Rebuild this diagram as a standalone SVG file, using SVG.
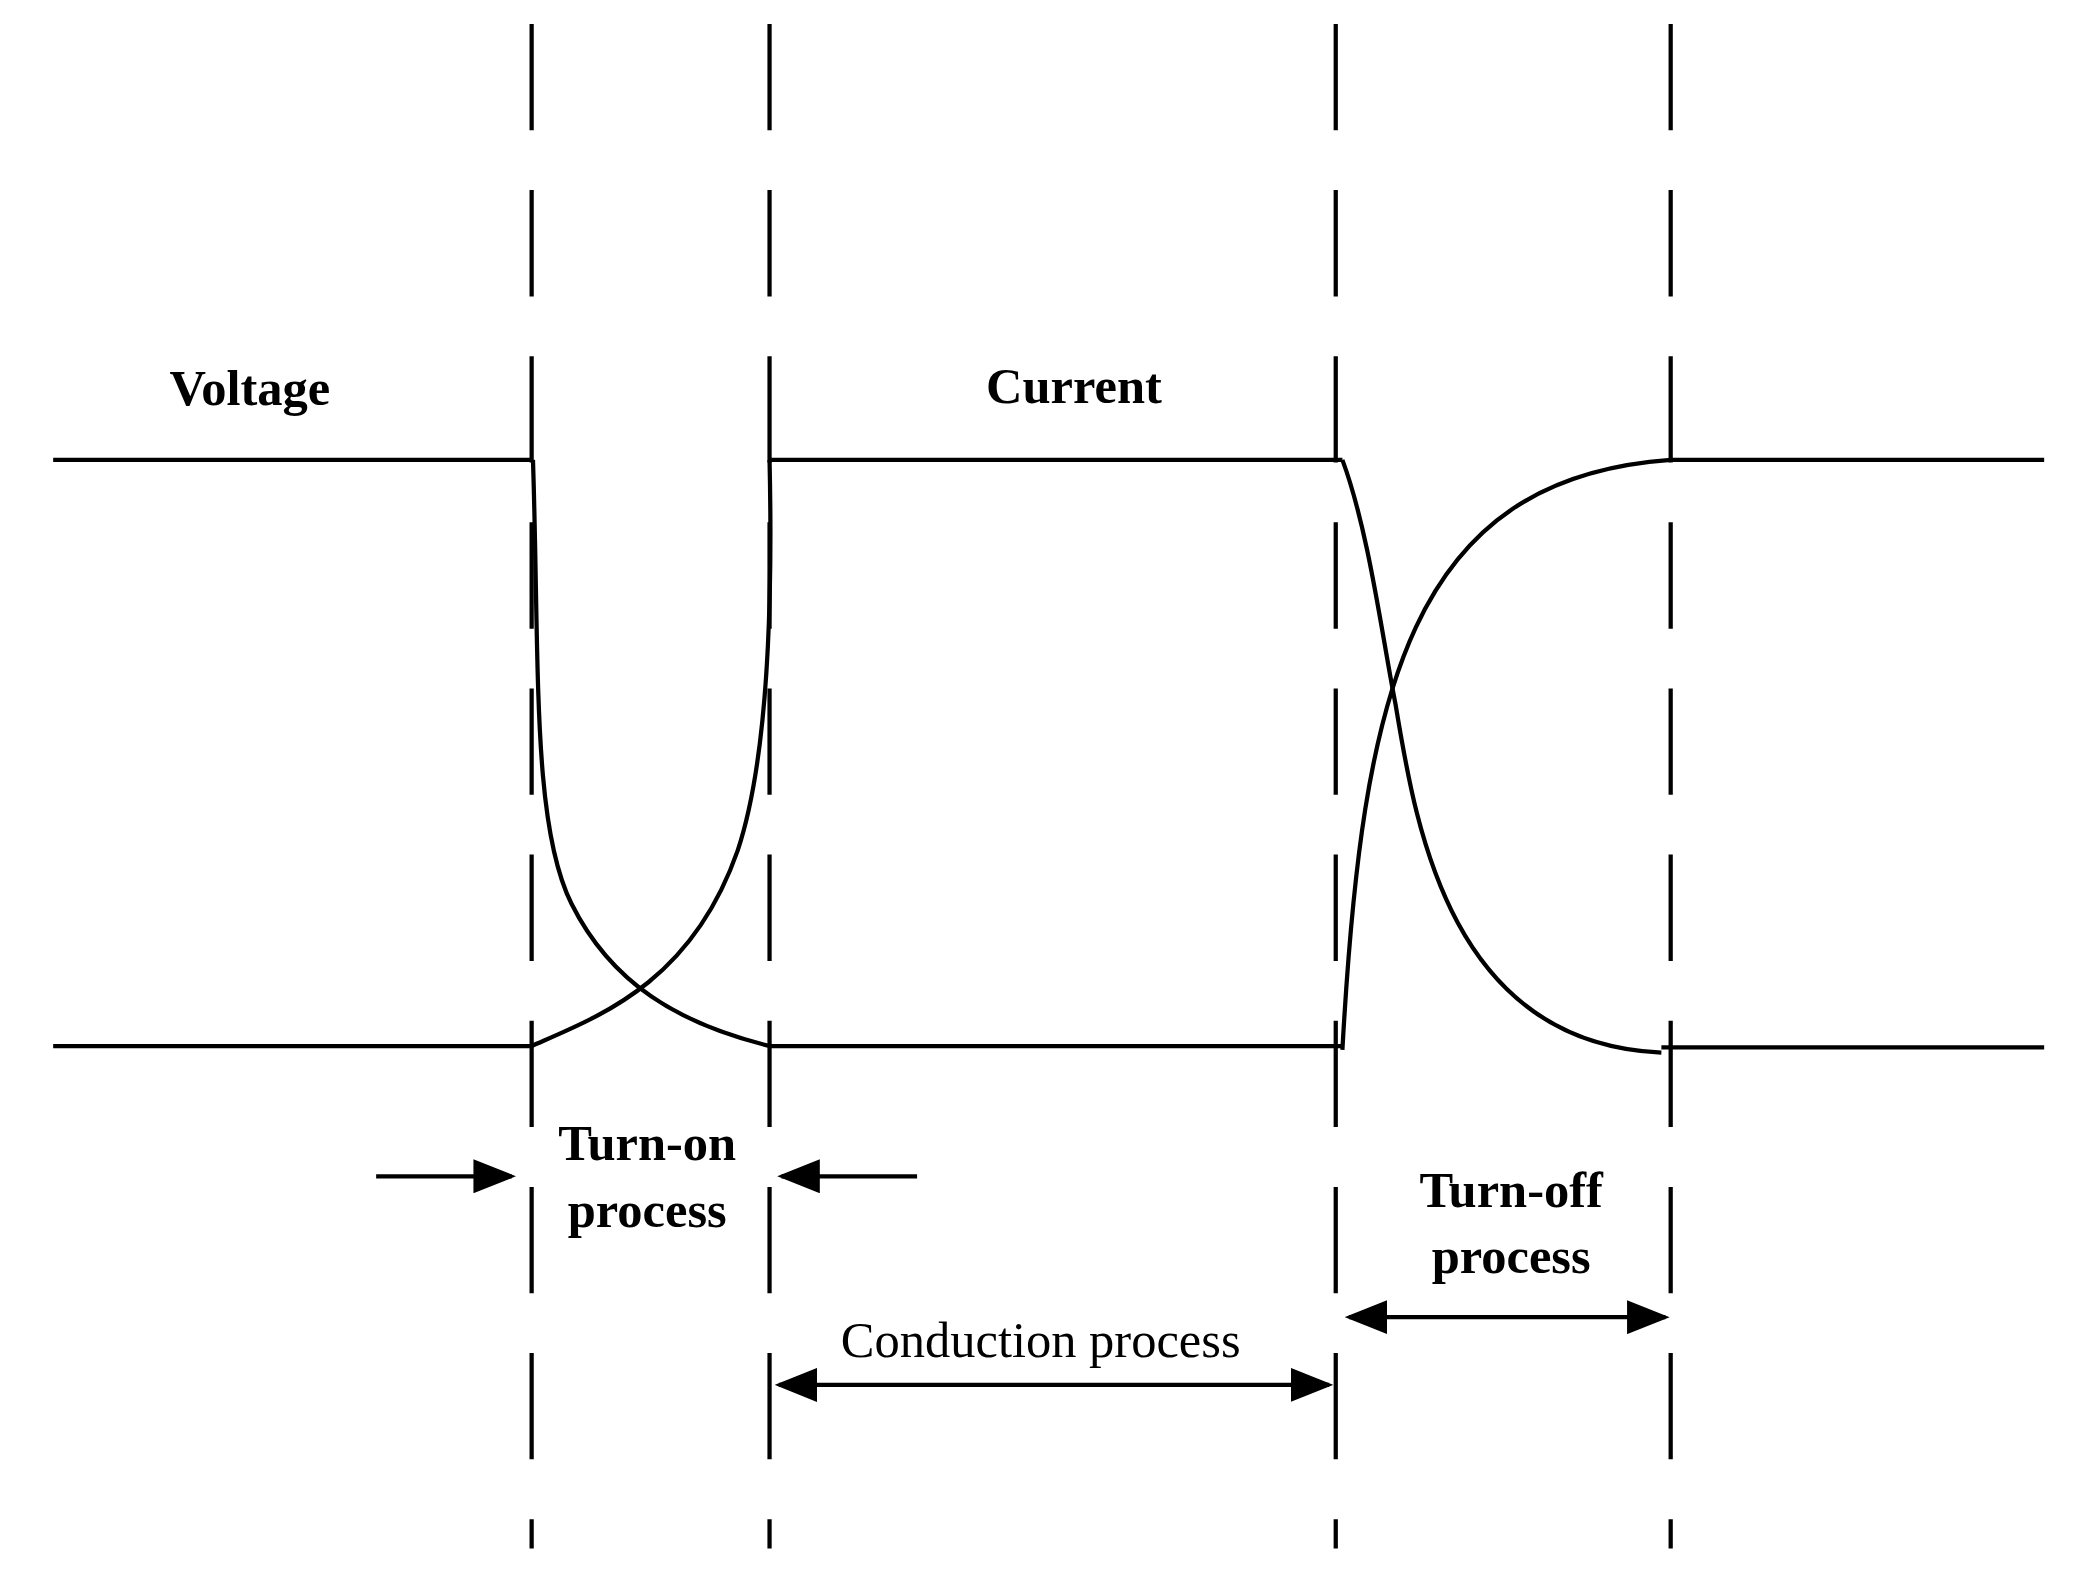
<svg xmlns="http://www.w3.org/2000/svg" width="2084" height="1577" viewBox="0 0 2084 1577">
<defs>
<style>
.l{stroke:#000;stroke-width:3.2;fill:none}
.d{stroke:#000;stroke-width:3.2;fill:none;stroke-dasharray:80 45}
.b{font-family:"Liberation Serif",serif;font-weight:bold;font-size:38px;text-anchor:middle}
.r{font-family:"Liberation Serif",serif;font-size:38px;text-anchor:middle}
</style>
<marker id="a" markerWidth="10" markerHeight="8" refX="9" refY="4" orient="auto-start-reverse" markerUnits="strokeWidth"><path d="M0,0L10,4L0,8z"/></marker>
</defs>
<rect width="2084" height="1577" fill="#fff"/>
<g transform="scale(1.3291)">
<g id="grid">
<path class="d" d="M400,18V1165M579,18V1165M1005,18V1165M1257,18V1165"/>
</g>
<g id="waveforms">
<path class="l" d="M40,346H401M579,346H1010M1257,346H1538M40,787H400M579,787H1010M1250,788H1538"/>
<path class="l" d="M401,346C406,500 400,620 430,680C460,740 510,770 579,787"/>
<path class="l" d="M400,787C450,765 520,740 555,640C575,580 582,480 579,346"/>
<path class="l" d="M1010,346C1030,400 1040,480 1050,530C1065,620 1090,785 1250,792"/>
<path class="l" d="M1010,790C1025,520 1060,360 1257,346"/>
</g>
<g id="connectors">
<path class="l" d="M283,885H385" marker-end="url(#a)"/>
<path class="l" d="M690,885H588" marker-end="url(#a)"/>
<path class="l" d="M1015,991H1253" marker-start="url(#a)" marker-end="url(#a)"/>
<path class="l" d="M586,1042H1000" marker-start="url(#a)" marker-end="url(#a)"/>
</g>
<g id="labels">
<text class="b" x="188" y="305">Voltage</text>
<text class="b" x="808" y="303">Current</text>
<text class="b" x="487" y="873">Turn-on</text>
<text class="b" x="487" y="923">process</text>
<text class="b" x="1137" y="908">Turn-off</text>
<text class="b" x="1137" y="958">process</text>
<text class="r" x="783" y="1021">Conduction process</text>
</g>
</g>
</svg>
